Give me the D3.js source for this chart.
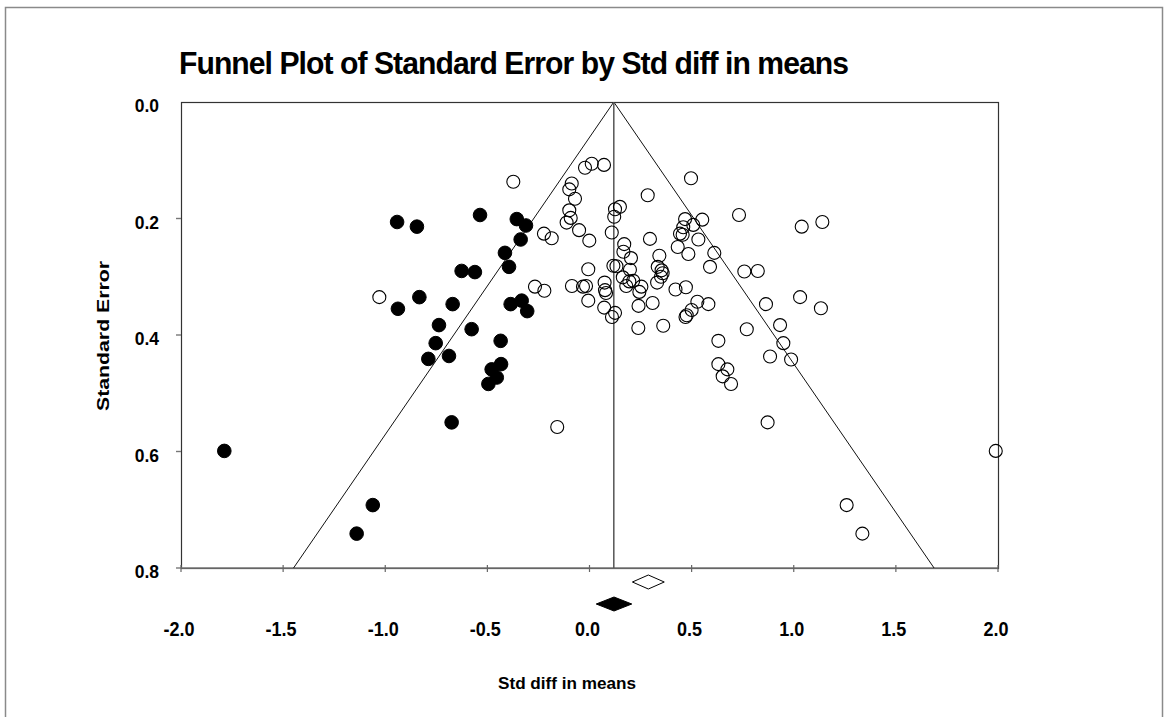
<!DOCTYPE html>
<html>
<head>
<meta charset="utf-8">
<script src="https://cdn.jsdelivr.net/npm/d3@7"></script>
<style>
  html, body { margin: 0; padding: 0; background: #fff; }
  svg { display: block; font-family: "Liberation Sans", Arial, sans-serif; font-weight: bold; }
</style>
</head>
<body>
<div id="stage"></div>
<script>
// observed studies: [std diff in means, standard error]
var observedPoints = [
  [1.140, 0.206], [1.039, 0.214], [0.732, 0.194], [0.552, 0.202], [0.508, 0.211],
  [0.533, 0.236], [0.611, 0.259], [0.590, 0.283], [0.824, 0.290], [0.758, 0.291],
  [1.031, 0.335], [1.133, 0.354], [0.864, 0.347], [0.582, 0.347], [0.528, 0.343],
  [0.500, 0.357], [0.933, 0.383], [0.770, 0.390], [0.949, 0.414], [0.631, 0.410],
  [0.884, 0.437], [0.987, 0.442], [0.631, 0.450], [0.675, 0.459], [0.652, 0.471],
  [0.693, 0.484], [0.872, 0.550], [1.989, 0.599], [1.259, 0.692], [1.336, 0.741],
  [-0.373, 0.137], [-0.022, 0.113], [0.011, 0.106], [0.071, 0.108], [0.497, 0.131],
  [0.285, 0.160], [-0.087, 0.140], [-0.099, 0.150], [-0.071, 0.166], [-0.099, 0.186],
  [-0.092, 0.199], [-0.112, 0.207], [-0.051, 0.220], [-0.001, 0.238], [-0.223, 0.226],
  [-0.185, 0.234], [0.149, 0.180], [0.125, 0.184], [0.121, 0.197], [0.109, 0.224],
  [0.296, 0.235], [0.170, 0.244], [0.166, 0.257], [0.203, 0.268], [0.117, 0.281],
  [0.132, 0.282], [-0.006, 0.287], [0.198, 0.288], [0.163, 0.301], [0.195, 0.308],
  [0.214, 0.307], [0.180, 0.316], [0.244, 0.326], [0.254, 0.317], [0.074, 0.310],
  [0.076, 0.323], [0.081, 0.328], [-0.267, 0.317], [-0.221, 0.324], [-0.086, 0.316],
  [-0.032, 0.317], [-0.017, 0.316], [-0.006, 0.341], [0.072, 0.353], [0.125, 0.362],
  [0.110, 0.369], [0.240, 0.350], [0.309, 0.345], [0.239, 0.388], [0.361, 0.384],
  [0.342, 0.264], [0.334, 0.283], [0.353, 0.289], [0.358, 0.294], [0.350, 0.300],
  [0.331, 0.310], [0.421, 0.322], [0.472, 0.318], [0.468, 0.201], [0.459, 0.215],
  [0.443, 0.226], [0.456, 0.228], [0.432, 0.249], [0.484, 0.261], [0.470, 0.369],
  [0.476, 0.366], [-0.158, 0.558], [-1.029, 0.335]
];

// studies imputed by trim and fill
var imputedPoints = [
  [-0.942, 0.206], [-0.845, 0.214], [-0.536, 0.194], [-0.356, 0.201], [-0.311, 0.212],
  [-0.337, 0.236], [-0.414, 0.259], [-0.394, 0.283], [-0.626, 0.290], [-0.561, 0.292],
  [-0.833, 0.335], [-0.938, 0.355], [-0.670, 0.347], [-0.386, 0.347], [-0.332, 0.341],
  [-0.305, 0.359], [-0.737, 0.383], [-0.577, 0.390], [-0.753, 0.414], [-0.435, 0.410],
  [-0.688, 0.436], [-0.789, 0.441], [-0.433, 0.450], [-0.479, 0.459], [-0.454, 0.473],
  [-0.495, 0.484], [-0.675, 0.550], [-1.788, 0.599], [-1.061, 0.692], [-1.140, 0.741]
];

// summary effects: [point, lower, upper]
var observedSummary = [0.288, 0.210, 0.366];
var adjustedSummary = [0.120, 0.033, 0.207];
var funnelCentre = 0.119;

var xTicks = [-2.0, -1.5, -1.0, -0.5, 0.0, 0.5, 1.0, 1.5, 2.0];
var yTicks = [0.0, 0.2, 0.4, 0.6, 0.8];

(function(d3) {
  'use strict';

  var width = 1171, height = 717;
  var plotLeft = 181, plotRight = 998, plotTop = 102, plotBottom = 568;
  var fmt = function(d) { return d3.format('.1f')(d).replace('\u2212', '-'); };

  var svg = d3.select('#stage').append('svg')
    .attr('width', width)
    .attr('height', height);

  // outer frame of the chart window
  svg.append('rect')
    .attr('x', 5.5).attr('y', 7.5)
    .attr('width', 1157).attr('height', 760)
    .attr('fill', 'none')
    .attr('stroke', '#8a8a8a')
    .attr('stroke-width', 1.5);

  var x = d3.scaleLinear().domain([-2, 2]).range([plotLeft, plotRight]);
  var y = d3.scaleLinear().domain([0, 0.8]).range([plotTop, plotBottom]);

  function condense(sel, factor) {
    sel.each(function() {
      var len = this.getComputedTextLength();
      d3.select(this)
        .attr('textLength', len * factor)
        .attr('lengthAdjust', 'spacingAndGlyphs');
    });
  }

  // title
  svg.append('text')
    .attr('x', 179).attr('y', 74)
    .attr('font-size', 32)
    .attr('fill', '#000')
    .attr('letter-spacing', -1)
    .text('Funnel Plot of Standard Error by Std diff in means')
    .attr('textLength', 669)
    .attr('lengthAdjust', 'spacingAndGlyphs');

  // plot frame
  svg.append('rect')
    .attr('x', plotLeft + 0.5).attr('y', plotTop + 0.5)
    .attr('width', plotRight - plotLeft).attr('height', plotBottom - plotTop)
    .attr('fill', 'none')
    .attr('stroke', '#333')
    .attr('stroke-width', 1.2);

  // bottom axis line
  svg.append('line')
    .attr('x1', plotLeft).attr('x2', plotRight)
    .attr('y1', plotBottom).attr('y2', plotBottom)
    .attr('stroke', '#777')
    .attr('stroke-width', 1.6);

  // y ticks and labels
  svg.append('g').selectAll('line')
    .data(yTicks.slice(1))
    .enter().append('line')
    .attr('x1', plotLeft - 5).attr('x2', plotLeft)
    .attr('y1', function(d) { return y(d); })
    .attr('y2', function(d) { return y(d); })
    .attr('stroke', '#777').attr('stroke-width', 1.4);

  svg.append('g').selectAll('text')
    .data(yTicks)
    .enter().append('text')
    .attr('x', 159)
    .attr('y', function(d) { return y(d) + 10; })
    .attr('text-anchor', 'end')
    .attr('font-size', 19)
    .text(fmt)
    .call(condense, 0.92);

  // x ticks and labels
  svg.append('g').selectAll('line')
    .data(xTicks)
    .enter().append('line')
    .attr('x1', function(d) { return x(d); })
    .attr('x2', function(d) { return x(d); })
    .attr('y1', plotBottom - 3).attr('y2', plotBottom + 4)
    .attr('stroke', '#666').attr('stroke-width', 1.2);

  svg.append('g').selectAll('text')
    .data(xTicks)
    .enter().append('text')
    .attr('x', function(d) { return x(d) - 2; })
    .attr('y', 636)
    .attr('text-anchor', 'middle')
    .attr('font-size', 20)
    .text(fmt)
    .call(condense, 0.9);

  // axis titles
  svg.append('text')
    .attr('x', 567).attr('y', 689)
    .attr('text-anchor', 'middle')
    .attr('font-size', 17)
    .text('Std diff in means')
    .attr('textLength', 138)
    .attr('lengthAdjust', 'spacingAndGlyphs');

  svg.append('text')
    .attr('transform', 'translate(109,336) rotate(-90)')
    .attr('text-anchor', 'middle')
    .attr('font-size', 17)
    .text('Standard Error')
    .attr('textLength', 150)
    .attr('lengthAdjust', 'spacingAndGlyphs');

  // funnel
  var funnelLine = d3.line()
    .x(function(d) { return x(d[0]); })
    .y(function(d) { return y(d[1]); });

  var seMax = 0.8;
  svg.append('path')
    .datum([[funnelCentre - 1.96 * seMax, seMax], [funnelCentre, 0], [funnelCentre + 1.96 * seMax, seMax]])
    .attr('d', funnelLine)
    .attr('fill', 'none')
    .attr('stroke', '#111')
    .attr('stroke-width', 1);

  svg.append('line')
    .attr('x1', x(funnelCentre)).attr('x2', x(funnelCentre))
    .attr('y1', y(0)).attr('y2', y(0.8))
    .attr('stroke', '#555')
    .attr('stroke-width', 1.5);

  // studies
  svg.append('g').selectAll('circle')
    .data(observedPoints)
    .enter().append('circle')
    .attr('cx', function(d) { return x(d[0]); })
    .attr('cy', function(d) { return y(d[1]); })
    .attr('r', 6.5)
    .attr('fill', 'none')
    .attr('stroke', '#000')
    .attr('stroke-width', 1.1);

  svg.append('g').selectAll('circle')
    .data(imputedPoints)
    .enter().append('circle')
    .attr('cx', function(d) { return x(d[0]); })
    .attr('cy', function(d) { return y(d[1]); })
    .attr('r', 6.8)
    .attr('fill', '#000')
    .attr('stroke', '#000')
    .attr('stroke-width', 1);

  // summary diamonds
  function diamond(s, cy) {
    return [[x(s[1]), cy], [x(s[0]), cy - 7], [x(s[2]), cy], [x(s[0]), cy + 7]];
  }
  svg.append('polygon')
    .attr('points', diamond(observedSummary, 582).join(' '))
    .attr('fill', '#fff')
    .attr('stroke', '#000')
    .attr('stroke-width', 1);

  svg.append('polygon')
    .attr('points', diamond(adjustedSummary, 604).join(' '))
    .attr('fill', '#000')
    .attr('stroke', '#000')
    .attr('stroke-width', 1);
})(window.d3);
</script>
</body>
</html>
